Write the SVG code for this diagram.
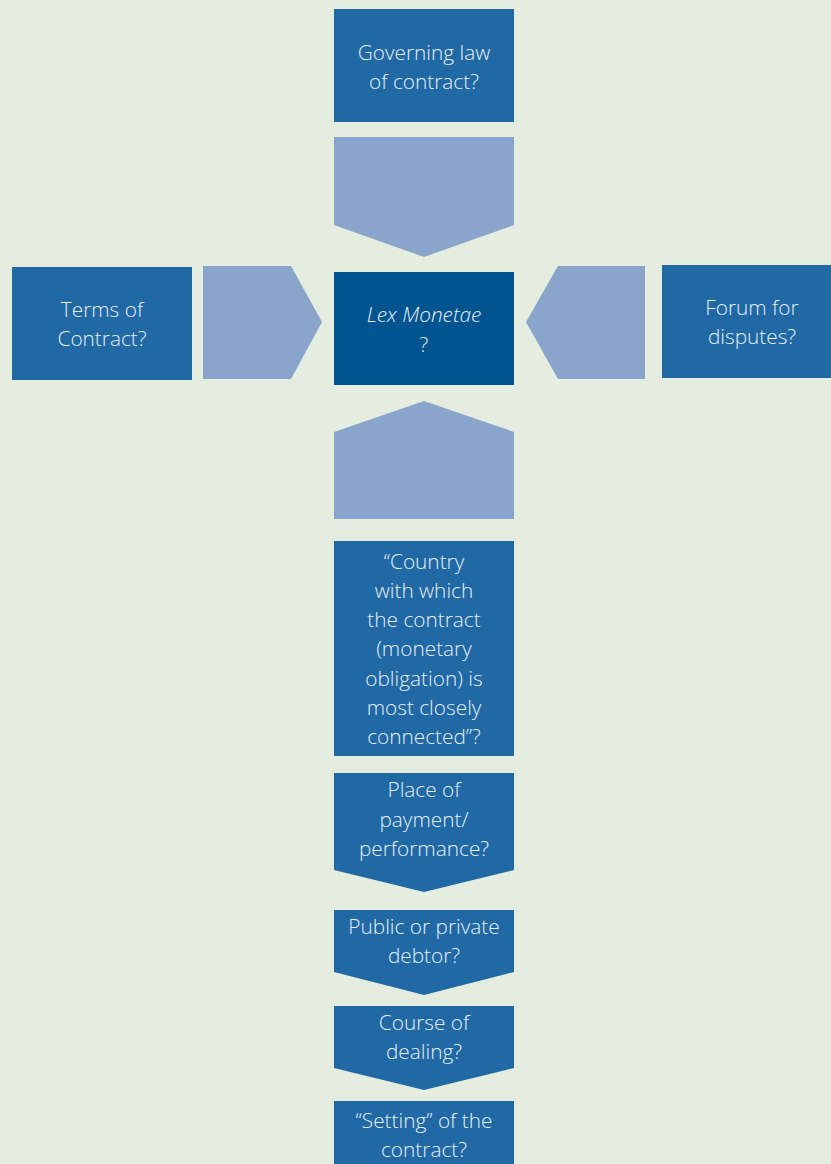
<svg xmlns="http://www.w3.org/2000/svg" width="831" height="1164" viewBox="0 0 831 1164">
<style>
.box{fill:#2069a4}
.core{fill:#00548f}
.arr{fill:#8aa5cc}
text{font-family:"Open Sans","Noto Sans","Liberation Sans",sans-serif;font-size:20.8px;font-weight:300;fill:#e6eef6;text-anchor:middle}
</style>
<rect width="831" height="1164" fill="#e5ede0"/>
<g id="connectors">
<polygon class="arr" points="334,137 514,137 514,225 424,257 334,225"/>
<polygon class="arr" points="203,266 291,266 322,322 291,379 203,379"/>
<polygon class="arr" points="645,266 558,266 526,322 558,379 645,379"/>
<polygon class="arr" points="334,432 424,401 514,432 514,519 334,519"/>
</g>
<g id="governing">
<rect class="box" x="334" y="9" width="180" height="113"/>
<text x="424" y="60">Governing law</text>
<text x="424" y="89">of contract?</text>
</g>
<g id="terms">
<rect class="box" x="12" y="267" width="180" height="113"/>
<text x="102" y="317">Terms of</text>
<text x="102" y="346">Contract?</text>
</g>
<g id="lex">
<rect class="core" x="334" y="272" width="180" height="113"/>
<text x="424" y="322" font-style="italic">Lex Monetae</text>
<text x="424" y="352">?</text>
</g>
<g id="forum">
<rect class="box" x="662" y="265" width="169" height="113"/>
<text x="752" y="315">Forum for</text>
<text x="752" y="344">disputes?</text>
</g>
<g id="country">
<rect class="box" x="334" y="541" width="180" height="215"/>
<text x="424" y="569">“Country</text>
<text x="424" y="598">with which</text>
<text x="424" y="627">the contract</text>
<text x="424" y="656">(monetary</text>
<text x="424" y="686">obligation) is</text>
<text x="424" y="715">most closely</text>
<text x="424" y="744">connected”?</text>
</g>
<g id="place">
<polygon class="box" points="334,773 514,773 514,870 424,892 334,870"/>
<text x="424" y="797">Place of</text>
<text x="424" y="827">payment/</text>
<text x="424" y="856">performance?</text>
</g>
<g id="public">
<polygon class="box" points="334,910 514,910 514,972 424,995 334,972"/>
<text x="424" y="934">Public or private</text>
<text x="424" y="963">debtor?</text>
</g>
<g id="course">
<polygon class="box" points="334,1006 514,1006 514,1068 424,1090 334,1068"/>
<text x="424" y="1030">Course of</text>
<text x="424" y="1059">dealing?</text>
</g>
<g id="setting">
<rect class="box" x="334" y="1101" width="180" height="70"/>
<text x="424" y="1128">“Setting” of the</text>
<text x="424" y="1157">contract?</text>
</g>
</svg>
